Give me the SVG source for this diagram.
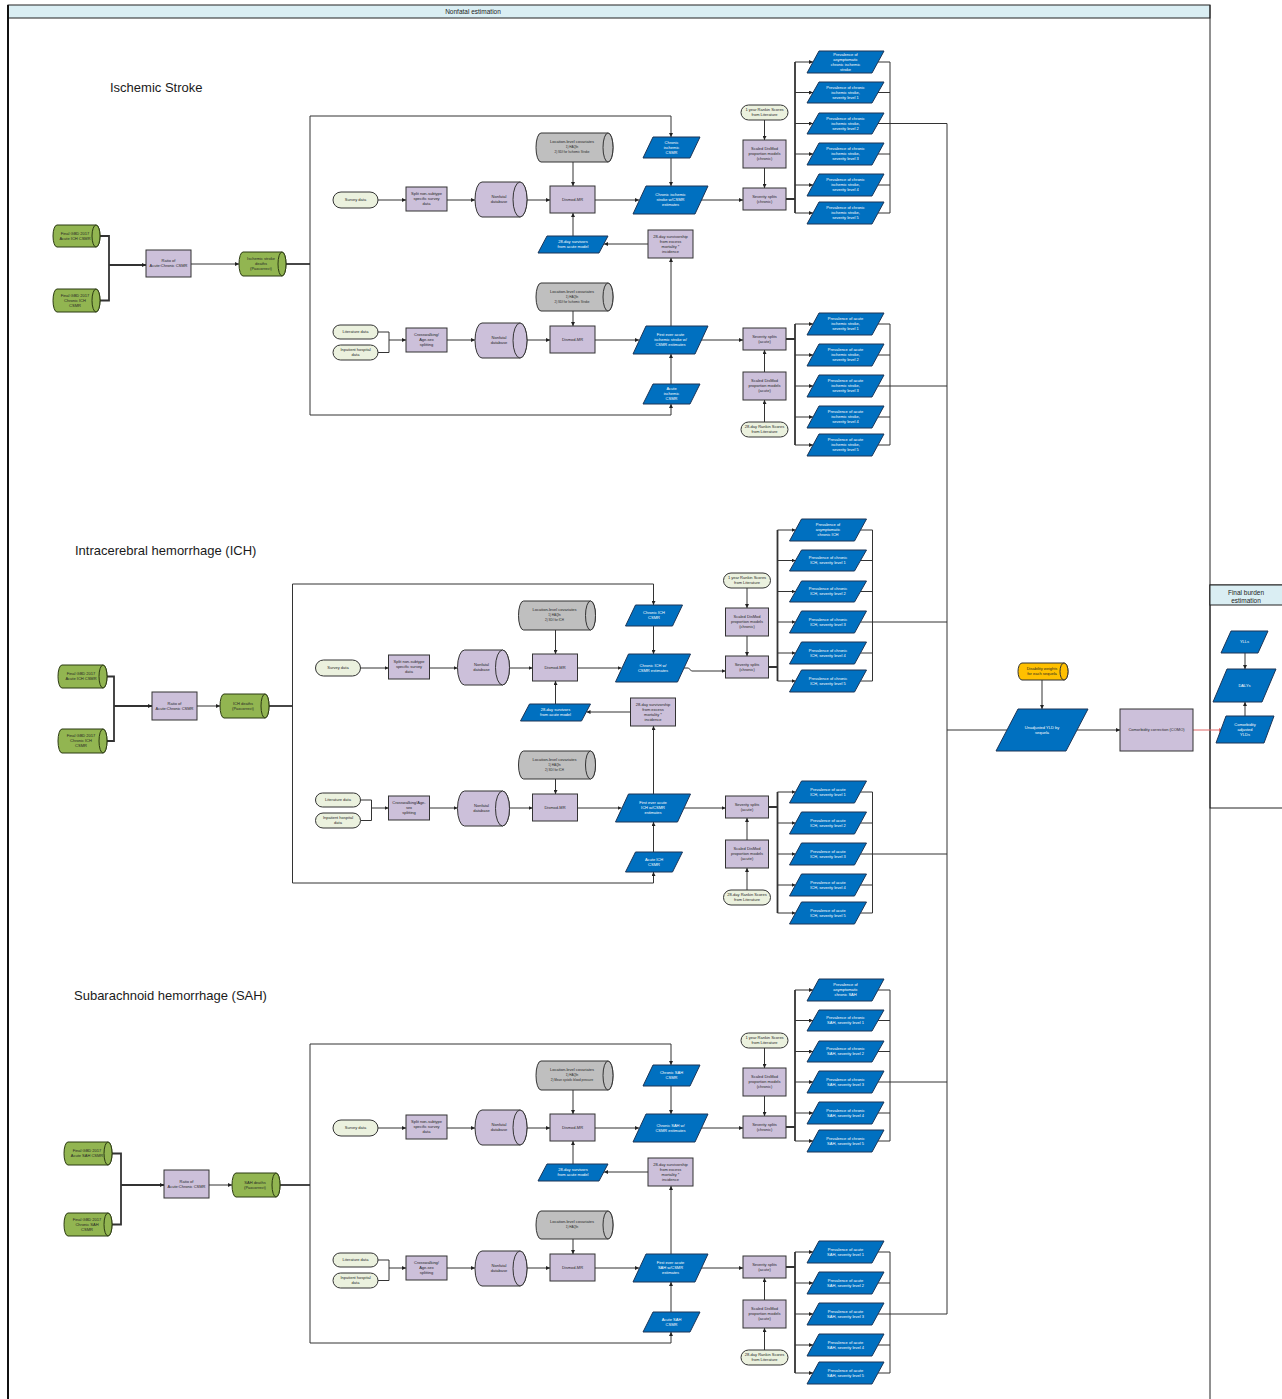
<svg xmlns="http://www.w3.org/2000/svg" width="1282" height="1399" viewBox="0 0 1282 1399">
<style>
.bx{fill:#ccc0da;stroke:#333;stroke-width:1}
.bl{fill:#0070c0;stroke:#1c3557;stroke-width:1}
.gc{fill:#92b551;stroke:#2b3a12;stroke-width:1}
.gy{fill:#bfbfbf;stroke:#333;stroke-width:1}
.pl{fill:#ebf1de;stroke:#333;stroke-width:1}
.or{fill:#ffc000;stroke:#333;stroke-width:1}
.hd{fill:#daeef3;stroke:#222;stroke-width:1}
text{font-family:"Liberation Sans",Arial,sans-serif}
.t{font-size:4px;fill:#262626;text-anchor:middle}
.w{fill:#fff}
.s{font-size:3px}
.h{font-size:13px;fill:#1a1a1a}
.c{fill:none;stroke:#333;stroke-width:1}
.a{fill:none;stroke:#333;stroke-width:1;marker-end:url(#ar)}
.k{stroke-width:1.8}
</style>
<defs>
<marker id="ar" viewBox="0 0 6 6" refX="6" refY="3" markerWidth="4" markerHeight="4" markerUnits="userSpaceOnUse" orient="auto"><path d="M0 0L6 3L0 6Z" fill="#222"/></marker>
<marker id="arr" viewBox="0 0 6 6" refX="6" refY="3" markerWidth="4" markerHeight="4" markerUnits="userSpaceOnUse" orient="auto"><path d="M0 0L6 3L0 6Z" fill="#e06666"/></marker>
</defs>

<g id="frame">
<rect class="hd" x="8" y="5" width="1202" height="13"/>
<text x="473" y="13.5" style="font-size:6.5px;fill:#222;text-anchor:middle">Nonfatal estimation</text>
<line x1="8" y1="5" x2="8" y2="1399" stroke="#111" stroke-width="2"/>
<line x1="1210" y1="5" x2="1210" y2="1399" stroke="#222" stroke-width="1"/>
</g>
<g id="final_panel">
<rect x="1210" y="585" width="80" height="223" fill="none" stroke="#222" stroke-width="1"/>
<rect class="hd" x="1210" y="585" width="80" height="20"/>
<text x="1246" y="594.5" style="font-size:6.5px;fill:#222;text-anchor:middle">Final burden</text>
<text x="1246" y="602.5" style="font-size:6.5px;fill:#222;text-anchor:middle">estimation</text>
</g>

<text class="h" x="110" y="92">Ischemic Stroke</text>
<text class="h" x="75" y="555">Intracerebral hemorrhage (ICH)</text>
<text class="h" x="74" y="1000">Subarachnoid hemorrhage (SAH)</text>

<g id="connectors">
<g id="conn_left">
<path class="c k" d="M100 236H109V300.5H100"/>
<path class="a k" d="M109 265H146"/>
<path class="a" d="M191 264H239"/>
<path class="c k" d="M286 264H310"/>
<path class="c k" d="M107 676.5H114V741H107"/>
<path class="a k" d="M114 706H152"/>
<path class="a" d="M197 706H220"/>
<path class="c k" d="M269 706H292.5"/>
<path class="c k" d="M112 1153.5H121V1224.5H112"/>
<path class="a k" d="M121 1185H164"/>
<path class="a" d="M209 1185H232"/>
<path class="c k" d="M280 1185H310"/>
</g>
<g id="conn_is">
<path class="c" d="M310 116V415"/>
<path class="c" d="M378 332H389V352.5H378"/>
<path class="c k" d="M786 199H795M795 62V213"/>
<path class="c" d="M878 62H890M878 92.5H890M878 123.5H890M878 154H890M878 185H890M878 213H890M890 62V213"/>
<path class="c k" d="M786 339H795M795 324V445"/>
<path class="c" d="M878 324H890M878 355H890M878 386H890M878 417H890M878 445H890M890 324V445"/>
<path class="a" d="M310 116H671V137"/><path class="a" d="M671 158V186"/>
<path class="a" d="M378 200H406"/><path class="a" d="M447 200H475"/><path class="a" d="M527 200H550"/>
<path class="a" d="M573 162V186"/><path class="a" d="M595 200H639"/><path class="a" d="M701 200H743"/>
<path class="a" d="M648 244H604"/><path class="a" d="M573 236V213"/><path class="a" d="M671 326V258"/>
<path class="a" d="M389 340H406"/><path class="a" d="M447 340H475"/><path class="a" d="M527 340H550"/>
<path class="a" d="M573 311V326"/><path class="a" d="M595 340H639"/><path class="a" d="M701 340H743"/>
<path class="a" d="M310 415H671V404"/><path class="a" d="M671 384V354"/>
<path class="a" d="M764.5 120V140"/><path class="a" d="M764.5 168V188"/>
<path class="a" d="M764.5 422V400"/><path class="a" d="M764.5 372V350"/>
<path class="a" d="M795 62H813"/><path class="a" d="M795 92.5H813"/><path class="a" d="M795 123.5H813"/><path class="a" d="M795 154H813"/><path class="a" d="M795 185H813"/><path class="a" d="M795 213H813"/>
<path class="a" d="M795 324H813"/><path class="a" d="M795 355H813"/><path class="a" d="M795 386H813"/><path class="a" d="M795 417H813"/><path class="a" d="M795 445H813"/>
</g>
<g id="conn_ich" transform="translate(-17.5,468)">
<path class="c" d="M310 116V415"/>
<path class="c" d="M378 332H389V352.5H378"/>
<path class="c k" d="M786 199H795M795 62V213"/>
<path class="c" d="M878 62H890M878 92.5H890M878 123.5H890M878 154H890M878 185H890M878 213H890M890 62V213"/>
<path class="c k" d="M786 339H795M795 324V445"/>
<path class="c" d="M878 324H890M878 355H890M878 386H890M878 417H890M878 445H890M890 324V445"/>
<path class="a" d="M310 116H671V137"/><path class="a" d="M671 158V186"/>
<path class="a" d="M378 200H406"/><path class="a" d="M447 200H475"/><path class="a" d="M527 200H550"/>
<path class="a" d="M573 162V186"/><path class="a" d="M595 200H639"/><path class="a" d="M701 200H706L709 203H743"/>
<path class="a" d="M648 244H604"/><path class="a" d="M573 236V213"/><path class="a" d="M671 326V258"/>
<path class="a" d="M389 340H406"/><path class="a" d="M447 340H475"/><path class="a" d="M527 340H550"/>
<path class="a" d="M573 311V326"/><path class="a" d="M595 340H639"/><path class="a" d="M701 340H743"/>
<path class="a" d="M310 415H671V404"/><path class="a" d="M671 384V354"/>
<path class="a" d="M764.5 120V140"/><path class="a" d="M764.5 168V188"/>
<path class="a" d="M764.5 422V400"/><path class="a" d="M764.5 372V350"/>
<path class="a" d="M795 62H813"/><path class="a" d="M795 92.5H813"/><path class="a" d="M795 123.5H813"/><path class="a" d="M795 154H813"/><path class="a" d="M795 185H813"/><path class="a" d="M795 213H813"/>
<path class="a" d="M795 324H813"/><path class="a" d="M795 355H813"/><path class="a" d="M795 386H813"/><path class="a" d="M795 417H813"/><path class="a" d="M795 445H813"/>
</g>
<g id="conn_sah" transform="translate(0,928)">
<path class="c" d="M310 116V415"/>
<path class="c" d="M378 332H389V352.5H378"/>
<path class="c k" d="M786 199H795M795 62V213"/>
<path class="c" d="M878 62H890M878 92.5H890M878 123.5H890M878 154H890M878 185H890M878 213H890M890 62V213"/>
<path class="c k" d="M786 339H795M795 324V445"/>
<path class="c" d="M878 324H890M878 355H890M878 386H890M878 417H890M878 445H890M890 324V445"/>
<path class="a" d="M310 116H671V137"/><path class="a" d="M671 158V186"/>
<path class="a" d="M378 200H406"/><path class="a" d="M447 200H475"/><path class="a" d="M527 200H550"/>
<path class="a" d="M573 162V186"/><path class="a" d="M595 200H639"/><path class="a" d="M701 200H743"/>
<path class="a" d="M648 244H604"/><path class="a" d="M573 236V213"/><path class="a" d="M671 326V258"/>
<path class="a" d="M389 340H406"/><path class="a" d="M447 340H475"/><path class="a" d="M527 340H550"/>
<path class="a" d="M573 311V326"/><path class="a" d="M595 340H639"/><path class="a" d="M701 340H743"/>
<path class="a" d="M310 415H671V404"/><path class="a" d="M671 384V354"/>
<path class="a" d="M764.5 120V140"/><path class="a" d="M764.5 168V188"/>
<path class="a" d="M764.5 422V400"/><path class="a" d="M764.5 372V350"/>
<path class="a" d="M795 62H813"/><path class="a" d="M795 92.5H813"/><path class="a" d="M795 123.5H813"/><path class="a" d="M795 154H813"/><path class="a" d="M795 185H813"/><path class="a" d="M795 213H813"/>
<path class="a" d="M795 324H813"/><path class="a" d="M795 355H813"/><path class="a" d="M795 386H813"/><path class="a" d="M795 417H813"/><path class="a" d="M795 445H813"/>
</g>
<g id="conn_right">
<path class="c" d="M890 123.5H947M890 386H947M872.5 622H947M872.5 854H947M890 1082H947M890 1314H947"/>
<path class="c" d="M947 123.5V1314" stroke-width="1.4"/>
<path class="c" d="M947 730H1007" stroke-width="2.5"/>
<path class="a" d="M1042 680V709"/>
<path class="a" d="M1077 730H1120"/>
<path d="M1193 730H1223" fill="none" stroke="#e06666" stroke-width="1" marker-end="url(#arr)"/>
<path class="a" d="M1245 653V669"/>
<path class="a" d="M1245 716V702"/>
</g>
</g>

<!-- Ischemic stroke left -->
<g id="is_acsmr"><path class="gc" d="M57 225H96A4 11 0 0 1 96 247H57A4 11 0 0 1 57 225Z"/><ellipse class="gc" cx="96" cy="236" rx="4" ry="11"/><text class="t" x="75" y="234.9">Final GBD 2017<tspan x="75" dy="5">Acute ICH CSMR</tspan></text></g>
<g id="is_ccsmr"><path class="gc" d="M57 289H96A4 11.5 0 0 1 96 312H57A4 11.5 0 0 1 57 289Z"/><ellipse class="gc" cx="96" cy="300.5" rx="4" ry="11.5"/><text class="t" x="75" y="296.9">Final GBD 2017<tspan x="75" dy="5">Chronic ICH</tspan><tspan x="75" dy="5">CSMR</tspan></text></g>
<g id="is_ratio"><rect class="bx" x="146" y="250" width="45" height="27"/><text class="t" x="168.5" y="262.4">Ratio of<tspan x="168.5" dy="5">Acute:Chronic CSMR</tspan></text></g>
<g id="is_deaths"><path class="gc" d="M243 252H282A4 12 0 0 1 282 276H243A4 12 0 0 1 243 252Z"/><ellipse class="gc" cx="282" cy="264" rx="4" ry="12"/><text class="t" x="261" y="260.4">Ischemic stroke<tspan x="261" dy="5">deaths</tspan><tspan x="261" dy="5">(Paxcorrect)</tspan></text></g>

<g id="is_section">
<g id="is_cov1"><path class="gy" d="M541 133H608A5 14.5 0 0 1 608 162H541A5 14.5 0 0 1 541 133Z"/><ellipse class="gy" cx="608" cy="147.5" rx="5" ry="14.5"/><text class="t" x="572" y="143">Location-level covariates</text><text class="t s" x="572" y="148">1) HAQIn</text><text class="t s" x="572" y="152.5">2) SDI for Ischemic Stroke</text></g>
<g id="is_chcsmr"><polygon class="bl" points="653,137 700,137 690,158 643,158"/><text class="t w" x="671.5" y="143.9">Chronic<tspan x="671.5" dy="5">ischemic</tspan><tspan x="671.5" dy="5">CSMR</tspan></text></g>
<g id="is_survey"><rect class="pl" x="333" y="192" width="45" height="16" rx="8"/><text class="t" x="355.5" y="201.4">Survey data</text></g>
<g id="is_split"><rect class="bx" x="406" y="187" width="41" height="24"/><text class="t" x="426.5" y="195.4">Split non-subtype<tspan x="426.5" dy="5">specific survey</tspan><tspan x="426.5" dy="5">data</tspan></text></g>
<g id="is_db1"><path class="bx" d="M482 182H520A7 17.5 0 0 1 520 217H482A7 17.5 0 0 1 482 182Z"/><ellipse class="bx" cx="520" cy="199.5" rx="7" ry="17.5"/><text class="t" x="499" y="198.4">Nonfatal<tspan x="499" dy="5">database</tspan></text></g>
<g id="is_dm1"><rect class="bx" x="550" y="186" width="45" height="27"/><text class="t" x="572.5" y="200.9">Dismod-MR</text></g>
<g id="is_chest"><polygon class="bl" points="646,186 708,186 695,214 633,214"/><text class="t w" x="670.5" y="196.4">Chronic ischemic<tspan x="670.5" dy="5">stroke w/CSMR</tspan><tspan x="670.5" dy="5">estimates</tspan></text></g>
<g id="is_surv"><polygon class="bl" points="547,236 608,236 599,253 538,253"/><text class="t w" x="573" y="243.4">28-day survivors<tspan x="573" dy="5">from acute model</tspan></text></g>
<g id="is_surv28"><rect class="bx" x="648" y="230" width="45" height="28"/><text class="t" x="670.5" y="237.9">28-day survivorship<tspan x="670.5" dy="5">from excess</tspan><tspan x="670.5" dy="5">mortality *</tspan><tspan x="670.5" dy="5">incidence</tspan></text></g>
<g id="is_cov2"><path class="gy" d="M541 283H608A5 14 0 0 1 608 311H541A5 14 0 0 1 541 283Z"/><ellipse class="gy" cx="608" cy="297" rx="5" ry="14"/><text class="t" x="572" y="293">Location-level covariates</text><text class="t s" x="572" y="298">1) HAQIn</text><text class="t s" x="572" y="302.5">2) SDI for Ischemic Stroke</text></g>
<g id="is_lit"><rect class="pl" x="333" y="325" width="45" height="14" rx="7"/><text class="t" x="355.5" y="333.4">Literature data</text></g>
<g id="is_inp"><rect class="pl" x="333" y="345" width="45" height="15" rx="7.5"/><text class="t" x="355.5" y="351.4">Inpatient hospital<tspan x="355.5" dy="5">data</tspan></text></g>
<g id="is_cw"><rect class="bx" x="406" y="328" width="41" height="24"/><text class="t" x="426.5" y="336.4">Crosswalking/<tspan x="426.5" dy="5">Age-sex</tspan><tspan x="426.5" dy="5">splitting</tspan></text></g>
<g id="is_db2"><path class="bx" d="M482 323H520A7 17.5 0 0 1 520 358H482A7 17.5 0 0 1 482 323Z"/><ellipse class="bx" cx="520" cy="340.5" rx="7" ry="17.5"/><text class="t" x="499" y="339.4">Nonfatal<tspan x="499" dy="5">database</tspan></text></g>
<g id="is_dm2"><rect class="bx" x="550" y="326" width="45" height="27"/><text class="t" x="572.5" y="340.9">Dismod-MR</text></g>
<g id="is_acest"><polygon class="bl" points="646,326 708,326 695,354 633,354"/><text class="t w" x="670.5" y="336.4">First ever acute<tspan x="670.5" dy="5">ischemic stroke w/</tspan><tspan x="670.5" dy="5">CSMR estimates</tspan></text></g>
<g id="is_accsmr"><polygon class="bl" points="653,384 700,384 690,404 643,404"/><text class="t w" x="671.5" y="390.4">Acute<tspan x="671.5" dy="5">ischemic</tspan><tspan x="671.5" dy="5">CSMR</tspan></text></g>
<g id="is_rk1"><rect class="pl" x="741" y="105" width="47" height="15" rx="7.5"/><text class="t" x="764.5" y="111.4">1 year Rankin Scores<tspan x="764.5" dy="5">from Literature</tspan></text></g>
<g id="is_sc1"><rect class="bx" x="743" y="140" width="43" height="28"/><text class="t" x="764.5" y="150.4">Scaled DisMod<tspan x="764.5" dy="5">proportion models</tspan><tspan x="764.5" dy="5">(chronic)</tspan></text></g>
<g id="is_sv1"><rect class="bx" x="743" y="188" width="43" height="22"/><text class="t" x="764.5" y="197.9">Severity splits<tspan x="764.5" dy="5">(chronic)</tspan></text></g>
<g id="is_sv2"><rect class="bx" x="743" y="328" width="43" height="22"/><text class="t" x="764.5" y="337.9">Severity splits<tspan x="764.5" dy="5">(acute)</tspan></text></g>
<g id="is_sc2"><rect class="bx" x="743" y="372" width="43" height="28"/><text class="t" x="764.5" y="382.4">Scaled DisMod<tspan x="764.5" dy="5">proportion models</tspan><tspan x="764.5" dy="5">(acute)</tspan></text></g>
<g id="is_rk2"><rect class="pl" x="741" y="422" width="47" height="15" rx="7.5"/><text class="t" x="764.5" y="428.4">28-day Rankin Scores<tspan x="764.5" dy="5">from Literature</tspan></text></g>
<g id="is_pc0"><polygon class="bl" points="819,51 884,51 872,73 807,73"/><text class="t w" x="845.5" y="55.9">Prevalence of<tspan x="845.5" dy="5">asymptomatic</tspan><tspan x="845.5" dy="5">chronic ischemic</tspan><tspan x="845.5" dy="5">stroke</tspan></text></g>
<g id="is_pc1"><polygon class="bl" points="819,82 884,82 872,103 807,103"/><text class="t w" x="845.5" y="88.9">Prevalence of chronic<tspan x="845.5" dy="5">ischemic stroke,</tspan><tspan x="845.5" dy="5">severity level 1</tspan></text></g>
<g id="is_pc2"><polygon class="bl" points="819,113 884,113 872,134 807,134"/><text class="t w" x="845.5" y="119.9">Prevalence of chronic<tspan x="845.5" dy="5">ischemic stroke,</tspan><tspan x="845.5" dy="5">severity level 2</tspan></text></g>
<g id="is_pc3"><polygon class="bl" points="819,143 884,143 872,165 807,165"/><text class="t w" x="845.5" y="150.4">Prevalence of chronic<tspan x="845.5" dy="5">ischemic stroke,</tspan><tspan x="845.5" dy="5">severity level 3</tspan></text></g>
<g id="is_pc4"><polygon class="bl" points="819,174 884,174 872,196 807,196"/><text class="t w" x="845.5" y="181.4">Prevalence of chronic<tspan x="845.5" dy="5">ischemic stroke,</tspan><tspan x="845.5" dy="5">severity level 4</tspan></text></g>
<g id="is_pc5"><polygon class="bl" points="819,202 884,202 872,224 807,224"/><text class="t w" x="845.5" y="209.4">Prevalence of chronic<tspan x="845.5" dy="5">ischemic stroke,</tspan><tspan x="845.5" dy="5">severity level 5</tspan></text></g>
<g id="is_pa1"><polygon class="bl" points="819,313 884,313 872,335 807,335"/><text class="t w" x="845.5" y="320.4">Prevalence of acute<tspan x="845.5" dy="5">ischemic stroke,</tspan><tspan x="845.5" dy="5">severity level 1</tspan></text></g>
<g id="is_pa2"><polygon class="bl" points="819,344 884,344 872,366 807,366"/><text class="t w" x="845.5" y="351.4">Prevalence of acute<tspan x="845.5" dy="5">ischemic stroke,</tspan><tspan x="845.5" dy="5">severity level 2</tspan></text></g>
<g id="is_pa3"><polygon class="bl" points="819,375 884,375 872,397 807,397"/><text class="t w" x="845.5" y="382.4">Prevalence of acute<tspan x="845.5" dy="5">ischemic stroke,</tspan><tspan x="845.5" dy="5">severity level 3</tspan></text></g>
<g id="is_pa4"><polygon class="bl" points="819,406 884,406 872,428 807,428"/><text class="t w" x="845.5" y="413.4">Prevalence of acute<tspan x="845.5" dy="5">ischemic stroke,</tspan><tspan x="845.5" dy="5">severity level 4</tspan></text></g>
<g id="is_pa5"><polygon class="bl" points="819,434 884,434 872,456 807,456"/><text class="t w" x="845.5" y="441.4">Prevalence of acute<tspan x="845.5" dy="5">ischemic stroke,</tspan><tspan x="845.5" dy="5">severity level 5</tspan></text></g>
</g>

<!-- ICH left -->
<g id="ich_acsmr"><path class="gc" d="M62 665H103A4 11.5 0 0 1 103 688H62A4 11.5 0 0 1 62 665Z"/><ellipse class="gc" cx="103" cy="676.5" rx="4" ry="11.5"/><text class="t" x="81" y="675.4">Final GBD 2017<tspan x="81" dy="5">Acute ICH CSMR</tspan></text></g>
<g id="ich_ccsmr"><path class="gc" d="M62 729H103A4 12 0 0 1 103 753H62A4 12 0 0 1 62 729Z"/><ellipse class="gc" cx="103" cy="741" rx="4" ry="12"/><text class="t" x="81" y="737.4">Final GBD 2017<tspan x="81" dy="5">Chronic ICH</tspan><tspan x="81" dy="5">CSMR</tspan></text></g>
<g id="ich_ratio"><rect class="bx" x="152" y="692" width="45" height="28"/><text class="t" x="174.5" y="704.9">Ratio of<tspan x="174.5" dy="5">Acute:Chronic CSMR</tspan></text></g>
<g id="ich_deaths"><path class="gc" d="M224 694H265A4 12 0 0 1 265 718H224A4 12 0 0 1 224 694Z"/><ellipse class="gc" cx="265" cy="706" rx="4" ry="12"/><text class="t" x="243" y="704.9">ICH deaths<tspan x="243" dy="5">(Paxcorrect)</tspan></text></g>

<g id="ich_section" transform="translate(-17.5,468)">
<g id="ich_cov1"><path class="gy" d="M541 133H608A5 14.5 0 0 1 608 162H541A5 14.5 0 0 1 541 133Z"/><ellipse class="gy" cx="608" cy="147.5" rx="5" ry="14.5"/><text class="t" x="572" y="143">Location-level covariates</text><text class="t s" x="572" y="148">1) HAQIn</text><text class="t s" x="572" y="152.5">2) SDI for ICH</text></g>
<g id="ich_chcsmr"><polygon class="bl" points="653,137 700,137 690,158 643,158"/><text class="t w" x="671.5" y="146.4">Chronic ICH<tspan x="671.5" dy="5">CSMR</tspan></text></g>
<g id="ich_survey"><rect class="pl" x="333" y="192" width="45" height="16" rx="8"/><text class="t" x="355.5" y="201.4">Survey data</text></g>
<g id="ich_split"><rect class="bx" x="406" y="187" width="41" height="24"/><text class="t" x="426.5" y="195.4">Split non-subtype<tspan x="426.5" dy="5">specific survey</tspan><tspan x="426.5" dy="5">data</tspan></text></g>
<g id="ich_db1"><path class="bx" d="M482 182H520A7 17.5 0 0 1 520 217H482A7 17.5 0 0 1 482 182Z"/><ellipse class="bx" cx="520" cy="199.5" rx="7" ry="17.5"/><text class="t" x="499" y="198.4">Nonfatal<tspan x="499" dy="5">database</tspan></text></g>
<g id="ich_dm1"><rect class="bx" x="550" y="186" width="45" height="27"/><text class="t" x="572.5" y="200.9">Dismod-MR</text></g>
<g id="ich_chest"><polygon class="bl" points="646,186 708,186 695,214 633,214"/><text class="t w" x="670.5" y="198.9">Chronic ICH w/<tspan x="670.5" dy="5">CSMR estimates</tspan></text></g>
<g id="ich_surv"><polygon class="bl" points="547,236 608,236 599,253 538,253"/><text class="t w" x="573" y="243.4">28-day survivors<tspan x="573" dy="5">from acute model</tspan></text></g>
<g id="ich_surv28"><rect class="bx" x="648" y="230" width="45" height="28"/><text class="t" x="670.5" y="237.9">28-day survivorship<tspan x="670.5" dy="5">from excess</tspan><tspan x="670.5" dy="5">mortality *</tspan><tspan x="670.5" dy="5">incidence</tspan></text></g>
<g id="ich_cov2"><path class="gy" d="M541 283H608A5 14 0 0 1 608 311H541A5 14 0 0 1 541 283Z"/><ellipse class="gy" cx="608" cy="297" rx="5" ry="14"/><text class="t" x="572" y="293">Location-level covariates</text><text class="t s" x="572" y="298">1) HAQIn</text><text class="t s" x="572" y="302.5">2) SDI for ICH</text></g>
<g id="ich_lit"><rect class="pl" x="333" y="325" width="45" height="14" rx="7"/><text class="t" x="355.5" y="333.4">Literature data</text></g>
<g id="ich_inp"><rect class="pl" x="333" y="345" width="45" height="15" rx="7.5"/><text class="t" x="355.5" y="351.4">Inpatient hospital<tspan x="355.5" dy="5">data</tspan></text></g>
<g id="ich_cw"><rect class="bx" x="406" y="328" width="41" height="24"/><text class="t" x="426.5" y="336.4">Crosswalking/Age-<tspan x="426.5" dy="5">sex</tspan><tspan x="426.5" dy="5">splitting</tspan></text></g>
<g id="ich_db2"><path class="bx" d="M482 323H520A7 17.5 0 0 1 520 358H482A7 17.5 0 0 1 482 323Z"/><ellipse class="bx" cx="520" cy="340.5" rx="7" ry="17.5"/><text class="t" x="499" y="339.4">Nonfatal<tspan x="499" dy="5">database</tspan></text></g>
<g id="ich_dm2"><rect class="bx" x="550" y="326" width="45" height="27"/><text class="t" x="572.5" y="340.9">Dismod-MR</text></g>
<g id="ich_acest"><polygon class="bl" points="646,326 708,326 695,354 633,354"/><text class="t w" x="670.5" y="336.4">First ever acute<tspan x="670.5" dy="5">ICH w/CSMR</tspan><tspan x="670.5" dy="5">estimates</tspan></text></g>
<g id="ich_accsmr"><polygon class="bl" points="653,384 700,384 690,404 643,404"/><text class="t w" x="671.5" y="392.9">Acute ICH<tspan x="671.5" dy="5">CSMR</tspan></text></g>
<g id="ich_rk1"><rect class="pl" x="741" y="105" width="47" height="15" rx="7.5"/><text class="t" x="764.5" y="111.4">1 year Rankin Scores<tspan x="764.5" dy="5">from Literature</tspan></text></g>
<g id="ich_sc1"><rect class="bx" x="743" y="140" width="43" height="28"/><text class="t" x="764.5" y="150.4">Scaled DisMod<tspan x="764.5" dy="5">proportion models</tspan><tspan x="764.5" dy="5">(chronic)</tspan></text></g>
<g id="ich_sv1"><rect class="bx" x="743" y="188" width="43" height="22"/><text class="t" x="764.5" y="197.9">Severity splits<tspan x="764.5" dy="5">(chronic)</tspan></text></g>
<g id="ich_sv2"><rect class="bx" x="743" y="328" width="43" height="22"/><text class="t" x="764.5" y="337.9">Severity splits<tspan x="764.5" dy="5">(acute)</tspan></text></g>
<g id="ich_sc2"><rect class="bx" x="743" y="372" width="43" height="28"/><text class="t" x="764.5" y="382.4">Scaled DisMod<tspan x="764.5" dy="5">proportion models</tspan><tspan x="764.5" dy="5">(acute)</tspan></text></g>
<g id="ich_rk2"><rect class="pl" x="741" y="422" width="47" height="15" rx="7.5"/><text class="t" x="764.5" y="428.4">28-day Rankin Scores<tspan x="764.5" dy="5">from Literature</tspan></text></g>
<g id="ich_pc0"><polygon class="bl" points="819,51 884,51 872,73 807,73"/><text class="t w" x="845.5" y="58.4">Prevalence of<tspan x="845.5" dy="5">asymptomatic</tspan><tspan x="845.5" dy="5">chronic ICH</tspan></text></g>
<g id="ich_pc1"><polygon class="bl" points="819,82 884,82 872,103 807,103"/><text class="t w" x="845.5" y="91.4">Prevalence of chronic<tspan x="845.5" dy="5">ICH, severity level 1</tspan></text></g>
<g id="ich_pc2"><polygon class="bl" points="819,113 884,113 872,134 807,134"/><text class="t w" x="845.5" y="122.4">Prevalence of chronic<tspan x="845.5" dy="5">ICH, severity level 2</tspan></text></g>
<g id="ich_pc3"><polygon class="bl" points="819,143 884,143 872,165 807,165"/><text class="t w" x="845.5" y="152.9">Prevalence of chronic<tspan x="845.5" dy="5">ICH, severity level 3</tspan></text></g>
<g id="ich_pc4"><polygon class="bl" points="819,174 884,174 872,196 807,196"/><text class="t w" x="845.5" y="183.9">Prevalence of chronic<tspan x="845.5" dy="5">ICH, severity level 4</tspan></text></g>
<g id="ich_pc5"><polygon class="bl" points="819,202 884,202 872,224 807,224"/><text class="t w" x="845.5" y="211.9">Prevalence of chronic<tspan x="845.5" dy="5">ICH, severity level 5</tspan></text></g>
<g id="ich_pa1"><polygon class="bl" points="819,313 884,313 872,335 807,335"/><text class="t w" x="845.5" y="322.9">Prevalence of acute<tspan x="845.5" dy="5">ICH, severity level 1</tspan></text></g>
<g id="ich_pa2"><polygon class="bl" points="819,344 884,344 872,366 807,366"/><text class="t w" x="845.5" y="353.9">Prevalence of acute<tspan x="845.5" dy="5">ICH, severity level 2</tspan></text></g>
<g id="ich_pa3"><polygon class="bl" points="819,375 884,375 872,397 807,397"/><text class="t w" x="845.5" y="384.9">Prevalence of acute<tspan x="845.5" dy="5">ICH, severity level 3</tspan></text></g>
<g id="ich_pa4"><polygon class="bl" points="819,406 884,406 872,428 807,428"/><text class="t w" x="845.5" y="415.9">Prevalence of acute<tspan x="845.5" dy="5">ICH, severity level 4</tspan></text></g>
<g id="ich_pa5"><polygon class="bl" points="819,434 884,434 872,456 807,456"/><text class="t w" x="845.5" y="443.9">Prevalence of acute<tspan x="845.5" dy="5">ICH, severity level 5</tspan></text></g>
</g>

<!-- SAH left -->
<g id="sah_acsmr"><path class="gc" d="M68 1142H108A4 11.5 0 0 1 108 1165H68A4 11.5 0 0 1 68 1142Z"/><ellipse class="gc" cx="108" cy="1153.5" rx="4" ry="11.5"/><text class="t" x="87" y="1152.4">Final GBD 2017<tspan x="87" dy="5">Acute SAH CSMR</tspan></text></g>
<g id="sah_ccsmr"><path class="gc" d="M68 1213H108A4 11.5 0 0 1 108 1236H68A4 11.5 0 0 1 68 1213Z"/><ellipse class="gc" cx="108" cy="1224.5" rx="4" ry="11.5"/><text class="t" x="87" y="1220.9">Final GBD 2017<tspan x="87" dy="5">Chronic SAH</tspan><tspan x="87" dy="5">CSMR</tspan></text></g>
<g id="sah_ratio"><rect class="bx" x="164" y="1170" width="45" height="28"/><text class="t" x="186.5" y="1182.9">Ratio of<tspan x="186.5" dy="5">Acute:Chronic CSMR</tspan></text></g>
<g id="sah_deaths"><path class="gc" d="M236 1173H276A4 12 0 0 1 276 1197H236A4 12 0 0 1 236 1173Z"/><ellipse class="gc" cx="276" cy="1185" rx="4" ry="12"/><text class="t" x="255" y="1183.9">SAH deaths<tspan x="255" dy="5">(Paxcorrect)</tspan></text></g>

<g id="sah_section" transform="translate(0,928)">
<g id="sah_cov1"><path class="gy" d="M541 133H608A5 14.5 0 0 1 608 162H541A5 14.5 0 0 1 541 133Z"/><ellipse class="gy" cx="608" cy="147.5" rx="5" ry="14.5"/><text class="t" x="572" y="143">Location-level covariates</text><text class="t s" x="572" y="148">1) HAQIn</text><text class="t s" x="572" y="152.5">2) Mean systolic blood pressure</text></g>
<g id="sah_chcsmr"><polygon class="bl" points="653,137 700,137 690,158 643,158"/><text class="t w" x="671.5" y="146.4">Chronic SAH<tspan x="671.5" dy="5">CSMR</tspan></text></g>
<g id="sah_survey"><rect class="pl" x="333" y="192" width="45" height="16" rx="8"/><text class="t" x="355.5" y="201.4">Survey data</text></g>
<g id="sah_split"><rect class="bx" x="406" y="187" width="41" height="24"/><text class="t" x="426.5" y="195.4">Split non-subtype<tspan x="426.5" dy="5">specific survey</tspan><tspan x="426.5" dy="5">data</tspan></text></g>
<g id="sah_db1"><path class="bx" d="M482 182H520A7 17.5 0 0 1 520 217H482A7 17.5 0 0 1 482 182Z"/><ellipse class="bx" cx="520" cy="199.5" rx="7" ry="17.5"/><text class="t" x="499" y="198.4">Nonfatal<tspan x="499" dy="5">database</tspan></text></g>
<g id="sah_dm1"><rect class="bx" x="550" y="186" width="45" height="27"/><text class="t" x="572.5" y="200.9">Dismod-MR</text></g>
<g id="sah_chest"><polygon class="bl" points="646,186 708,186 695,214 633,214"/><text class="t w" x="670.5" y="198.9">Chronic SAH w/<tspan x="670.5" dy="5">CSMR estimates</tspan></text></g>
<g id="sah_surv"><polygon class="bl" points="547,236 608,236 599,253 538,253"/><text class="t w" x="573" y="243.4">28-day survivors<tspan x="573" dy="5">from acute model</tspan></text></g>
<g id="sah_surv28"><rect class="bx" x="648" y="230" width="45" height="28"/><text class="t" x="670.5" y="237.9">28-day survivorship<tspan x="670.5" dy="5">from excess</tspan><tspan x="670.5" dy="5">mortality *</tspan><tspan x="670.5" dy="5">incidence</tspan></text></g>
<g id="sah_cov2"><path class="gy" d="M541 283H608A5 14 0 0 1 608 311H541A5 14 0 0 1 541 283Z"/><ellipse class="gy" cx="608" cy="297" rx="5" ry="14"/><text class="t" x="572" y="295">Location-level covariates</text><text class="t s" x="572" y="300">1) HAQIn</text></g>
<g id="sah_lit"><rect class="pl" x="333" y="325" width="45" height="14" rx="7"/><text class="t" x="355.5" y="333.4">Literature data</text></g>
<g id="sah_inp"><rect class="pl" x="333" y="345" width="45" height="15" rx="7.5"/><text class="t" x="355.5" y="351.4">Inpatient hospital<tspan x="355.5" dy="5">data</tspan></text></g>
<g id="sah_cw"><rect class="bx" x="406" y="328" width="41" height="24"/><text class="t" x="426.5" y="336.4">Crosswalking/<tspan x="426.5" dy="5">Age-sex</tspan><tspan x="426.5" dy="5">splitting</tspan></text></g>
<g id="sah_db2"><path class="bx" d="M482 323H520A7 17.5 0 0 1 520 358H482A7 17.5 0 0 1 482 323Z"/><ellipse class="bx" cx="520" cy="340.5" rx="7" ry="17.5"/><text class="t" x="499" y="339.4">Nonfatal<tspan x="499" dy="5">database</tspan></text></g>
<g id="sah_dm2"><rect class="bx" x="550" y="326" width="45" height="27"/><text class="t" x="572.5" y="340.9">Dismod-MR</text></g>
<g id="sah_acest"><polygon class="bl" points="646,326 708,326 695,354 633,354"/><text class="t w" x="670.5" y="336.4">First ever acute<tspan x="670.5" dy="5">SAH w/CSMR</tspan><tspan x="670.5" dy="5">estimates</tspan></text></g>
<g id="sah_accsmr"><polygon class="bl" points="653,384 700,384 690,404 643,404"/><text class="t w" x="671.5" y="392.9">Acute SAH<tspan x="671.5" dy="5">CSMR</tspan></text></g>
<g id="sah_rk1"><rect class="pl" x="741" y="105" width="47" height="15" rx="7.5"/><text class="t" x="764.5" y="111.4">1 year Rankin Scores<tspan x="764.5" dy="5">from Literature</tspan></text></g>
<g id="sah_sc1"><rect class="bx" x="743" y="140" width="43" height="28"/><text class="t" x="764.5" y="150.4">Scaled DisMod<tspan x="764.5" dy="5">proportion models</tspan><tspan x="764.5" dy="5">(chronic)</tspan></text></g>
<g id="sah_sv1"><rect class="bx" x="743" y="188" width="43" height="22"/><text class="t" x="764.5" y="197.9">Severity splits<tspan x="764.5" dy="5">(chronic)</tspan></text></g>
<g id="sah_sv2"><rect class="bx" x="743" y="328" width="43" height="22"/><text class="t" x="764.5" y="337.9">Severity splits<tspan x="764.5" dy="5">(acute)</tspan></text></g>
<g id="sah_sc2"><rect class="bx" x="743" y="372" width="43" height="28"/><text class="t" x="764.5" y="382.4">Scaled DisMod<tspan x="764.5" dy="5">proportion models</tspan><tspan x="764.5" dy="5">(acute)</tspan></text></g>
<g id="sah_rk2"><rect class="pl" x="741" y="422" width="47" height="15" rx="7.5"/><text class="t" x="764.5" y="428.4">28-day Rankin Scores<tspan x="764.5" dy="5">from Literature</tspan></text></g>
<g id="sah_pc0"><polygon class="bl" points="819,51 884,51 872,73 807,73"/><text class="t w" x="845.5" y="58.4">Prevalence of<tspan x="845.5" dy="5">asymptomatic</tspan><tspan x="845.5" dy="5">chronic SAH</tspan></text></g>
<g id="sah_pc1"><polygon class="bl" points="819,82 884,82 872,103 807,103"/><text class="t w" x="845.5" y="91.4">Prevalence of chronic<tspan x="845.5" dy="5">SAH, severity level 1</tspan></text></g>
<g id="sah_pc2"><polygon class="bl" points="819,113 884,113 872,134 807,134"/><text class="t w" x="845.5" y="122.4">Prevalence of chronic<tspan x="845.5" dy="5">SAH, severity level 2</tspan></text></g>
<g id="sah_pc3"><polygon class="bl" points="819,143 884,143 872,165 807,165"/><text class="t w" x="845.5" y="152.9">Prevalence of chronic<tspan x="845.5" dy="5">SAH, severity level 3</tspan></text></g>
<g id="sah_pc4"><polygon class="bl" points="819,174 884,174 872,196 807,196"/><text class="t w" x="845.5" y="183.9">Prevalence of chronic<tspan x="845.5" dy="5">SAH, severity level 4</tspan></text></g>
<g id="sah_pc5"><polygon class="bl" points="819,202 884,202 872,224 807,224"/><text class="t w" x="845.5" y="211.9">Prevalence of chronic<tspan x="845.5" dy="5">SAH, severity level 5</tspan></text></g>
<g id="sah_pa1"><polygon class="bl" points="819,313 884,313 872,335 807,335"/><text class="t w" x="845.5" y="322.9">Prevalence of acute<tspan x="845.5" dy="5">SAH, severity level 1</tspan></text></g>
<g id="sah_pa2"><polygon class="bl" points="819,344 884,344 872,366 807,366"/><text class="t w" x="845.5" y="353.9">Prevalence of acute<tspan x="845.5" dy="5">SAH, severity level 2</tspan></text></g>
<g id="sah_pa3"><polygon class="bl" points="819,375 884,375 872,397 807,397"/><text class="t w" x="845.5" y="384.9">Prevalence of acute<tspan x="845.5" dy="5">SAH, severity level 3</tspan></text></g>
<g id="sah_pa4"><polygon class="bl" points="819,406 884,406 872,428 807,428"/><text class="t w" x="845.5" y="415.9">Prevalence of acute<tspan x="845.5" dy="5">SAH, severity level 4</tspan></text></g>
<g id="sah_pa5"><polygon class="bl" points="819,434 884,434 872,456 807,456"/><text class="t w" x="845.5" y="443.9">Prevalence of acute<tspan x="845.5" dy="5">SAH, severity level 5</tspan></text></g>
</g>

<!-- Right side -->
<g id="disability_weights"><path class="or" d="M1022 663H1064A4 8.5 0 0 1 1064 680H1022A4 8.5 0 0 1 1022 663Z"/><ellipse class="or" cx="1064" cy="671.5" rx="4" ry="8.5"/><text class="t" x="1042" y="670.4">Disability weights<tspan x="1042" dy="5">for each sequela</tspan></text></g>
<g id="unadjusted_yld"><polygon class="bl" points="1018,709 1088,709 1066,751 996,751"/><text class="t w" x="1042" y="728.9">Unadjusted YLD by<tspan x="1042" dy="5">sequela</tspan></text></g>
<g id="como"><rect class="bx" x="1120" y="709" width="73" height="42"/><text class="t" x="1156.5" y="731.4">Comorbidity correction (COMO)</text></g>
<g id="ylls"><polygon class="bl" points="1231,631 1268,631 1258,653 1221,653"/><text class="t w" x="1244.5" y="643.4">YLLs</text></g>
<g id="dalys"><polygon class="bl" points="1227,669 1276,669 1262,702 1213,702"/><text class="t w" x="1244.5" y="686.9">DALYs</text></g>
<g id="adjusted_ylds"><polygon class="bl" points="1226,716 1274,716 1264,743 1216,743"/><text class="t w" x="1245" y="725.9">Comorbidity<tspan x="1245" dy="5">adjusted</tspan><tspan x="1245" dy="5">YLDs</tspan></text></g>
</svg>
